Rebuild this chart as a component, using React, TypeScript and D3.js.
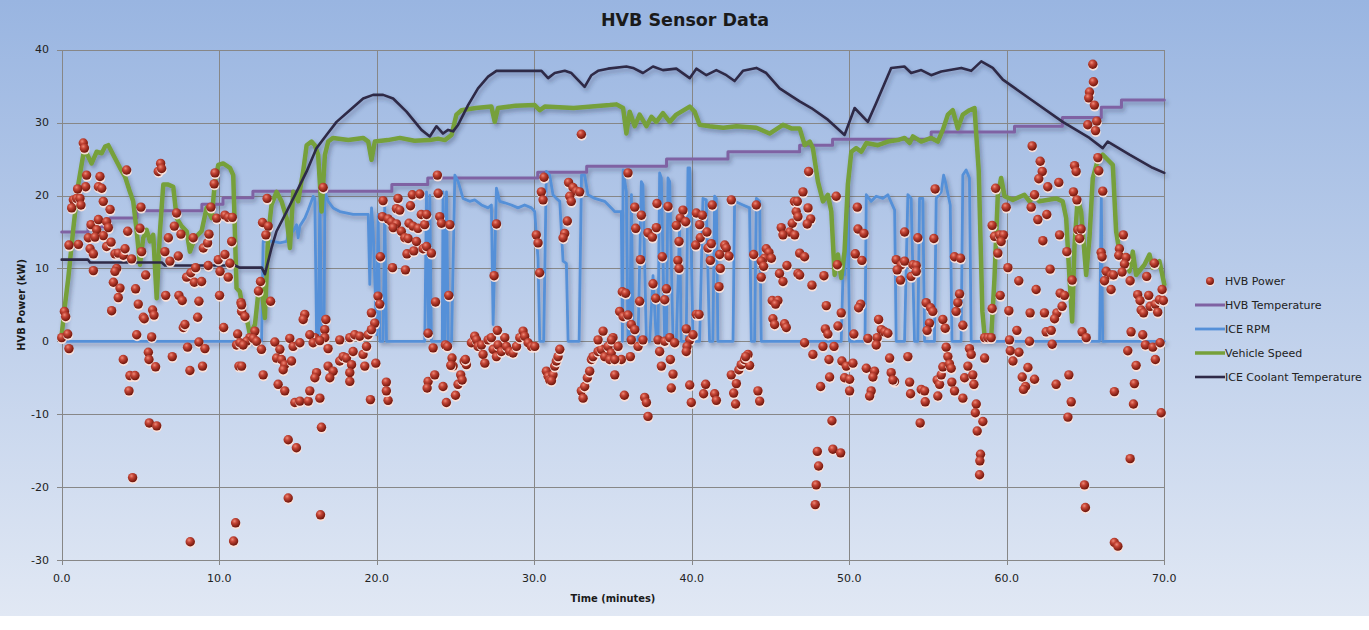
import React from "react";
import * as d3 from "d3";

// chart size (matches the screenshot window)
const W = 1369;
const H = 630;

const xTicks = [0, 10, 20, 30, 40, 50, 60, 70];
const yTicks = [-30, -20, -10, 0, 10, 20, 30, 40];

// [minutes, value] pairs
const hvbTemperature: [number, number][] = [
  [0, 15.0], [1.67, 15.7], [3.06, 16.9], [4.78, 17.9], [8.9, 18.8], [10.24, 19.7],
  [12.14, 20.6], [20.96, 21.5], [23.24, 22.4], [30.22, 23.2], [33.33, 24.0],
  [38.4, 25.0], [42.3, 26.0], [46.85, 26.9], [48.94, 27.7], [55.2, 28.7],
  [60.49, 29.5], [63.53, 30.7], [66.0, 32.1], [67.28, 33.1], [70, 33.1],
];

const iceRpm: [number, number][] = [
  [0, 0], [12.69, 0], [12.79, 13.7], [13.43, 13.7], [13.85, 13.5], [14.28, 13.7], [14.49, 15.8],
  [14.7, 15.1], [14.91, 16.0], [15.01, 14.2], [15.12, 15.8], [15.44, 16.9], [15.65, 18.0],
  [15.97, 19.9], [16.07, 19.6], [16.18, 0.9], [16.3, 0.9], [16.39, 20.5], [16.5, 0.5],
  [16.65, 0.5], [16.71, 20.5], [16.92, 19.2], [17.23, 18.3], [17.66, 17.8], [18.5, 17.4],
  [19.46, 17.4], [19.56, 7.8], [19.67, 18.3], [19.78, 15.0], [19.99, 0.9], [20.09, 17.4],
  [20.2, 0], [20.4, 0], [20.51, 18.7], [20.62, 0], [23.05, 0], [23.16, 20.5], [23.3, 0.9],
  [23.37, 20.0], [23.47, 0], [24.16, 0], [24.21, 20.5], [24.32, 0], [24.43, 20.5], [24.54, 0],
  [24.75, 0], [24.96, 22.8], [25.17, 21.9], [25.48, 19.6], [25.9, 19.2], [26.22, 19.4],
  [26.65, 18.7], [27.07, 18.3], [27.28, 18.7], [27.39, 2.3], [27.6, 21.0], [27.81, 19.2],
  [28.13, 19.0], [28.55, 18.7], [28.97, 18.3], [29.39, 18.7], [29.82, 18.3], [30.03, 17.8],
  [30.24, 11.4], [30.35, 0], [30.6, 0], [30.77, 23.3], [30.98, 22.8], [31.19, 20.1],
  [31.4, 19.6], [31.62, 19.2], [31.83, 11.0], [32.04, 10.7], [32.15, 0], [32.85, 0],
  [33.0, 22.8], [33.2, 22.8], [33.41, 20.1], [33.84, 19.6], [34.47, 19.2], [34.89, 18.3],
  [35.1, 17.8], [35.53, 17.8], [35.6, 0], [35.64, 23.5], [35.85, 20.5], [35.95, 0],
  [36.06, 0], [36.17, 20.1], [36.27, 0], [36.59, 0], [36.8, 21.9], [36.9, 21.5], [37.12, 0],
  [37.33, 0], [37.54, 9.0], [37.75, 0], [37.86, 0], [37.96, 23.1], [38.07, 22.4], [38.28, 0],
  [38.39, 0], [38.49, 22.4], [38.6, 21.9], [38.81, 0], [39.02, 0], [39.23, 16.0], [39.33, 0],
  [39.65, 0], [39.76, 23.8], [39.87, 23.8], [40.08, 0], [40.5, 0], [40.71, 19.6], [40.92, 19.4],
  [41.13, 0], [41.34, 0], [41.45, 19.9], [41.56, 19.6], [41.66, 0], [42.62, 0], [42.72, 19.2],
  [43.25, 18.7], [43.67, 18.3], [43.78, 0], [43.99, 0], [44.1, 19.6], [44.31, 19.2], [44.41, 0],
  [49.49, 0], [49.6, 9.1], [49.7, 9.1], [49.91, 18.3], [50.02, 0], [51.0, 0], [51.08, 20.1],
  [51.39, 19.2], [51.71, 19.9], [52.13, 19.6], [52.45, 20.1], [52.88, 18.0], [52.98, 0],
  [53.51, 0], [53.72, 20.1], [53.93, 19.6], [54.14, 0], [54.35, 0], [54.46, 19.6], [54.67, 19.6],
  [54.78, 0], [55.41, 0], [55.52, 19.6], [55.84, 20.5], [55.99, 22.8], [56.1, 21.9], [56.41, 18.7],
  [56.52, 0], [57.1, 0], [57.21, 22.8], [57.42, 23.5], [57.63, 22.4], [57.74, 0], [65.89, 0],
  [66.0, 20.1], [66.09, 0], [70, 0],
];

const vehicleSpeed: [number, number][] = [
  [0, 0.9], [0.21, 5.0], [0.42, 8.7], [0.74, 15.5], [1.05, 21.5], [1.37, 25.6], [1.58, 25.8],
  [1.9, 24.4], [2.22, 26.0], [2.54, 25.8], [2.75, 26.7], [2.96, 26.9], [3.27, 25.6], [3.7, 23.8],
  [4.02, 22.6], [4.33, 20.5], [4.54, 19.2], [4.76, 15.1], [4.97, 10.5], [5.18, 14.2], [5.39, 15.3],
  [5.6, 13.7], [5.81, 14.6], [6.03, 5.9], [6.24, 15.1], [6.45, 21.5], [6.76, 21.5], [7.08, 21.2],
  [7.3, 16.9], [7.61, 15.8], [7.93, 15.1], [8.14, 12.3], [8.46, 14.2], [8.88, 15.1], [9.2, 18.3],
  [9.52, 16.9], [9.73, 21.9], [9.94, 24.2], [10.25, 24.4], [10.68, 23.8], [10.89, 22.8],
  [11.1, 7.3], [11.31, 6.8], [11.52, 4.1], [11.74, 3.2], [11.95, 0.9], [12.27, 2.3], [12.47, 6.4],
  [12.69, 7.3], [12.9, 3.2], [13.11, 14.6], [13.32, 18.7], [13.64, 20.5], [13.96, 19.2],
  [14.28, 16.9], [14.49, 12.8], [14.7, 20.5], [15.01, 19.2], [15.33, 23.3], [15.55, 26.9],
  [15.86, 27.4], [16.07, 26.9], [16.28, 25.6], [16.5, 17.8], [16.71, 25.6], [16.92, 27.4],
  [17.23, 27.9], [18.2, 27.6], [19.14, 27.9], [19.46, 27.4], [19.67, 24.9], [19.88, 27.4],
  [20.7, 27.6], [21.47, 27.9], [22.4, 27.5], [23.37, 27.6], [23.9, 27.8], [24.32, 27.6],
  [24.75, 28.3], [25.06, 31.1], [25.38, 31.7], [26.3, 32.0], [27.28, 32.2], [27.49, 30.1],
  [27.7, 32.0], [28.8, 32.3], [30.03, 32.4], [30.35, 31.7], [30.67, 32.2], [32.5, 32.0],
  [34.8, 32.4], [35.22, 32.5], [35.64, 32.0], [35.85, 28.5], [36.06, 31.5], [36.38, 29.5],
  [36.69, 31.1], [37.12, 29.5], [37.44, 30.8], [37.75, 30.1], [38.17, 31.3], [38.6, 30.1],
  [39.02, 31.1], [39.87, 32.2], [40.18, 31.5], [40.5, 29.7], [41.13, 29.5], [42.0, 29.3],
  [42.83, 29.5], [44.1, 29.3], [44.94, 28.5], [45.79, 29.7], [46.32, 29.2], [46.85, 29.2],
  [47.17, 26.9], [47.49, 27.4], [47.69, 26.5], [48.01, 21.9], [48.33, 19.2], [48.64, 20.1],
  [48.86, 17.8], [49.07, 9.1], [49.28, 11.9], [49.49, 8.7], [49.7, 12.3], [49.91, 21.5],
  [50.13, 26.0], [50.44, 26.5], [50.76, 26.0], [51.08, 27.2], [51.82, 26.9], [52.45, 27.4],
  [53.08, 27.6], [53.51, 27.9], [53.83, 27.2], [54.04, 28.1], [54.57, 27.4], [55.2, 27.9],
  [55.62, 27.4], [55.94, 29.0], [56.26, 31.1], [56.57, 31.7], [56.89, 29.2], [57.21, 31.1],
  [57.63, 31.7], [57.95, 32.0], [58.22, 23.3], [58.45, 4.1], [58.6, 0.5], [59.01, 0.5],
  [59.22, 8.7], [59.43, 20.1], [59.64, 22.4], [59.86, 19.9], [60.38, 19.4], [61.12, 20.1],
  [61.44, 19.2], [61.76, 19.9], [62.07, 19.2], [63.13, 19.6], [63.55, 19.2], [63.77, 16.9],
  [63.98, 8.7], [64.15, 2.7], [64.3, 13.2], [64.5, 19.6], [64.72, 17.8], [65.04, 9.1],
  [65.25, 14.2], [65.46, 22.4], [65.78, 24.9], [66.09, 25.6], [66.41, 24.9], [66.73, 24.2],
  [66.94, 15.1], [67.15, 12.3], [67.47, 11.4], [67.79, 9.6], [68.0, 12.3], [68.21, 9.1],
  [68.74, 10.5], [69.06, 11.9], [69.26, 10.1], [69.69, 11.0], [70.0, 7.8],
];

const coolantTemperature: [number, number][] = [
  [0, 11.2], [1.67, 11.2], [1.8, 10.8], [6.36, 10.8], [6.56, 10.4], [11.0, 10.4], [11.3, 10.1],
  [12.7, 10.1], [12.9, 9.2], [13.32, 12.8], [13.64, 15.1], [14.28, 17.8], [14.91, 20.5],
  [15.55, 23.3], [16.18, 26.5], [16.81, 28.3], [17.45, 30.1], [18.29, 31.7], [19.14, 33.3],
  [19.77, 33.8], [20.41, 33.8], [21.04, 33.3], [21.89, 31.5], [22.84, 29.0], [23.37, 28.1],
  [23.79, 29.5], [24.21, 28.5], [24.53, 29.0], [24.85, 28.8], [25.17, 29.7], [25.8, 32.4],
  [26.43, 34.7], [27.07, 36.3], [27.6, 37.1], [30.46, 37.1], [30.88, 36.1], [31.3, 36.8],
  [31.94, 37.1], [32.36, 36.8], [33.2, 34.9], [33.63, 36.5], [34.05, 37.1], [34.68, 37.4],
  [35.85, 37.7], [36.27, 37.5], [36.9, 36.8], [37.54, 37.7], [38.17, 37.2], [39.02, 37.4],
  [39.87, 36.1], [40.29, 37.4], [40.93, 36.5], [41.56, 37.2], [42.2, 36.5], [42.72, 35.7],
  [43.25, 37.1], [44.1, 37.5], [44.73, 36.8], [45.58, 34.7], [46.21, 33.8], [46.85, 32.9],
  [47.59, 32.0], [48.64, 30.4], [49.7, 28.3], [50.34, 32.0], [51.18, 30.1], [51.71, 32.7],
  [52.66, 37.5], [53.5, 37.7], [53.93, 36.8], [54.57, 37.2], [55.2, 36.5], [55.84, 37.0],
  [57.11, 37.5], [57.74, 37.1], [58.38, 38.4], [59.11, 37.5], [59.75, 35.9], [61.44, 33.3],
  [63.55, 30.1], [65.25, 27.9], [66.09, 26.5], [66.41, 27.4], [67.79, 25.6], [69.26, 23.8],
  [70, 23.1],
];

const hvbPower: [number, number][] = [
  // 0 - 11 min
  [1.37, 27.2], [1.44, 26.5], [1.58, 22.8], [1.52, 21.2], [2.43, 22.6], [2.33, 21.2], [2.54, 21.0],
  [1.01, 20.9], [0.74, 19.4], [0.95, 19.6], [1.16, 19.6], [0.63, 18.3], [1.22, 18.7], [2.64, 19.2],
  [3.07, 18.1], [4.12, 23.5], [6.28, 24.4], [6.13, 23.3], [6.34, 23.7], [5.03, 18.4], [1.86, 16.0],
  [2.33, 16.7], [2.22, 15.3], [2.85, 16.4], [2.96, 15.6], [2.64, 14.5], [1.69, 14.2], [2.11, 14.3],
  [0.46, 13.2], [1.06, 13.3], [1.8, 12.7], [2.01, 12.0], [2.85, 13.0], [3.13, 13.6], [3.38, 12.0],
  [3.59, 12.1], [3.91, 11.8], [4.02, 12.7], [4.19, 15.1], [4.44, 11.3], [4.97, 15.5], [5.07, 12.3],
  [2.01, 9.7], [3.49, 10.0], [3.38, 9.6], [3.28, 8.1], [3.7, 7.3], [3.59, 6.0], [4.69, 7.2],
  [5.33, 9.1], [3.17, 4.2], [4.86, 5.1], [5.18, 3.3], [5.24, 3.1], [5.77, 4.3], [5.86, 3.6],
  [4.76, 0.9], [5.71, 0.6], [3.91, -2.5], [5.5, -1.5], [5.54, -2.5], [5.96, -3.5], [4.33, -4.7],
  [4.65, -4.7], [4.27, -6.8], [5.56, -11.2], [6.03, -11.6], [4.5, -18.7], [6.55, 12.3], [6.87, 11.0],
  [7.4, 11.7], [6.77, 14.2], [7.15, 15.8], [7.57, 14.7], [7.29, 17.6], [6.6, 6.3], [7.44, 6.3],
  [7.65, 5.6], [7.93, 8.8], [8.2, 9.4], [8.42, 8.1], [8.88, 8.2], [8.5, 10.1], [8.35, 14.2],
  [8.99, 12.8], [9.26, 13.5], [9.35, 14.7], [9.47, 18.4], [9.73, 23.1], [9.68, 21.6], [9.83, 16.9],
  [10.36, 17.3], [10.57, 17.0], [10.83, 17.0], [10.79, 13.7], [9.3, 10.4], [9.94, 11.2],
  [10.36, 11.9], [10.68, 10.7], [10.05, 9.6], [10.57, 8.8], [8.71, 5.5], [8.63, 3.3], [10.02, 6.3],
  [7.72, 1.9], [7.82, 2.3], [7.02, -2.1], [7.99, -0.8], [8.71, -0.1], [9.09, -1.0], [8.14, -4.0],
  [8.94, -3.4], [10.28, 1.9], [11.17, 1.0], [11.38, 5.3], [11.42, 4.1], [11.1, -0.5], [11.25, -3.4],
  [0.0, 0.5], [0.17, 4.1], [0.25, 3.4], [0.38, 1.0], [0.46, -1.0], [11.04, -24.9], [10.91, -27.4],
  [8.16, -27.5],
  // 11 - 23 min
  [13.04, 19.6], [12.75, 16.3], [13.11, 15.8], [12.96, 14.6], [12.62, 8.2], [12.49, 6.9],
  [13.26, 5.5], [16.6, 21.1], [20.4, 19.3], [21.35, 19.6], [21.25, 18.2], [21.46, 18.0],
  [22.26, 20.1], [22.73, 20.2], [22.14, 18.6], [22.83, 17.4], [20.36, 17.1], [20.72, 16.8],
  [20.93, 16.4], [21.25, 16.1], [21.04, 15.6], [22.05, 16.2], [22.3, 15.8], [22.62, 15.5],
  [23.04, 16.0], [21.56, 15.1], [21.78, 14.2], [21.99, 14.1], [22.52, 13.7], [22.94, 12.7],
  [21.92, 12.0], [22.35, 12.4], [20.23, 11.6], [21.0, 10.1], [21.82, 9.8], [11.63, 3.4],
  [11.42, 5.0], [12.26, 1.4], [11.94, 0.5], [11.73, 0], [11.31, -0.2], [11.52, -0.5], [12.16, 0.4],
  [12.37, 0], [12.68, -1.1], [11.42, -3.4], [12.79, -4.6], [15.43, 3.7], [15.33, 3.0], [16.77, 3.0],
  [16.7, 1.6], [16.7, 0.5], [16.07, 0.5], [13.53, -0.1], [13.85, -1.1], [14.48, 0.4], [14.69, -0.7],
  [15.12, -0.2], [15.75, 0.9], [15.96, -0.2], [16.39, 0.1], [16.91, -1.0], [17.65, 0.2], [18.29, 0.5],
  [18.6, 0.9], [18.92, 0.7], [19.45, 0.9], [19.66, 3.9], [19.87, 2.5], [20.08, 6.2], [20.19, 5.1],
  [19.66, 1.6], [13.64, -2.3], [13.95, -2.5], [14.16, -3.2], [14.59, -2.7], [14.06, -3.9],
  [13.74, -5.9], [14.16, -6.8], [14.8, -8.4], [15.12, -8.2], [15.65, -8.2], [15.75, -6.8],
  [16.39, -7.8], [16.18, -4.3], [16.07, -5.0], [16.91, -3.4], [17.23, -4.1], [17.02, -5.0],
  [17.65, -2.7], [17.87, -2.1], [18.08, -2.3], [18.4, -3.2], [18.29, -4.3], [18.29, -5.5],
  [18.5, -1.4], [19.13, -1.8], [19.24, -3.4], [19.35, -0.7], [19.94, -3.0], [19.6, -8.0],
  [20.61, -5.6], [20.72, -8.1], [20.61, -6.8], [16.49, -11.8], [14.38, -13.5], [14.9, -14.6],
  [14.38, -21.5], [16.43, -23.8], [23.26, 1.1], [23.26, -5.5], [23.2, -6.4],
  // 23 - 35 min
  [23.85, 22.8], [23.9, 20.3], [32.99, 28.4], [30.62, 22.5], [30.45, 20.5], [30.56, 19.4],
  [32.18, 21.8], [32.46, 21.1], [32.67, 20.6], [32.88, 20.5], [32.25, 19.9], [32.35, 19.2],
  [23.16, 17.4], [24.0, 17.1], [24.11, 16.2], [24.64, 16.0], [27.6, 16.1], [32.1, 16.5],
  [31.93, 14.8], [31.83, 14.2], [23.16, 13.0], [23.47, 12.1], [30.13, 14.6], [30.24, 13.5],
  [27.45, 9.0], [30.34, 9.4], [23.73, 5.4], [24.57, 6.3], [23.58, -0.9], [24.36, -0.5],
  [24.49, -0.7], [24.78, -2.3], [24.85, -3.4], [24.7, -3.3], [23.68, -4.6], [24.21, -6.2],
  [24.42, -8.4], [25.0, -7.4], [25.16, -5.9], [25.33, -4.6], [25.42, -5.3], [25.55, -2.7],
  [25.69, -3.2], [25.63, -2.5], [26.01, -0.2], [26.22, 0.7], [26.33, 0.2], [26.43, -0.7],
  [26.65, -0.5], [26.75, -1.8], [26.86, -3.0], [27.07, 0.2], [27.28, 0.5], [27.39, -1.1],
  [27.6, -2.1], [27.7, -0.5], [27.91, -1.4], [28.13, 0.5], [28.23, -0.7], [28.44, -1.4],
  [28.65, -1.6], [28.87, -0.7], [29.08, 0.5], [29.29, 1.4], [29.39, 0.7], [29.61, -0.2],
  [29.82, -0.7], [30.03, -0.7], [27.66, 1.5], [30.77, -4.1], [30.88, -4.8], [30.98, -5.3],
  [31.19, -4.6], [31.3, -3.4], [31.4, -2.7], [31.51, -2.1], [31.62, -1.1], [31.09, -5.4],
  [32.99, -6.8], [33.1, -7.8], [33.2, -6.2], [33.37, -5.0], [33.52, -4.1], [33.63, -2.5],
  [33.73, -2.1], [34.05, -1.4], [34.26, -1.1], [34.37, 1.4], [34.47, -2.1], [34.68, -0.7],
  [34.89, -1.6], [35.0, 0.5], [34.79, -2.5], [34.05, 0.2],
  // 35 - 47 min
  [35.95, 23.1], [36.38, 18.4], [36.8, 17.3], [37.79, 18.9], [38.49, 18.5], [39.44, 18.0],
  [39.27, 16.9], [39.61, 16.4], [40.29, 17.6], [40.67, 17.3], [41.3, 18.7], [42.51, 19.4],
  [44.1, 18.7], [36.44, 15.5], [37.22, 14.9], [37.5, 14.3], [37.75, 15.6], [39.02, 15.9],
  [40.5, 16.0], [40.54, 14.2], [40.96, 15.0], [39.19, 13.7], [40.25, 13.2], [41.03, 12.8],
  [41.24, 13.4], [42.09, 13.2], [42.19, 12.8], [41.77, 11.9], [42.36, 11.7], [43.93, 11.9],
  [44.73, 12.7], [44.9, 12.2], [44.62, 11.4], [45.05, 11.4], [44.41, 11.0], [44.56, 10.3],
  [36.74, 11.2], [38.13, 11.6], [39.12, 11.1], [39.19, 10.0], [41.18, 11.1], [41.81, 10.0],
  [41.73, 7.5], [44.41, 8.8], [35.59, 6.8], [35.8, 6.6], [36.69, 5.5], [37.54, 7.9], [37.71, 5.9],
  [38.28, 5.7], [38.39, 7.2], [40.29, 3.7], [40.46, 3.7], [35.42, 4.1], [35.64, 3.4], [35.95, 3.6],
  [36.16, 2.3], [36.38, 1.6], [39.65, 1.7], [34.9, 0.2], [35.32, -0.7], [35.53, -2.5],
  [35.11, -2.5], [36.16, 0.2], [36.59, -0.7], [36.9, 0.2], [37.86, 0.2], [38.28, 0], [38.6, 0.5],
  [38.91, -0.2], [39.87, 0.2], [40.08, 0.9], [39.7, -0.7], [39.65, -1.4], [35.11, -4.6],
  [36.1, -2.1], [37.96, -1.4], [38.64, -2.5], [38.07, -3.4], [38.81, -4.5], [38.7, -6.4],
  [35.72, -7.4], [37.01, -7.7], [37.12, -8.4], [37.22, -10.3], [39.87, -6.0], [39.97, -8.4],
  [40.88, -5.9], [40.75, -7.2], [41.45, -7.2], [41.56, -8.1], [42.51, -4.6], [42.83, -5.8],
  [42.66, -7.1], [42.78, -8.6], [42.99, -3.9], [43.14, -3.2], [43.35, -2.5], [43.57, -1.8],
  [43.67, -3.3], [44.2, -6.8], [44.31, -8.2], [43.42, -2.1], [46.52, 19.2], [46.63, 17.8],
  [46.38, 16.2], [45.68, 15.6], [46.21, 15.0], [45.79, 14.6], [45.57, 9.3], [45.79, 8.2],
  [46.04, 10.4], [46.74, 9.3], [45.15, 3.1], [45.26, 2.3], [45.89, 2.4], [46.0, 1.9],
  [45.11, 5.6], [45.47, 5.6], [45.32, 5.1],
  // 47 - 58 min
  [47.42, 23.3], [47.06, 20.5], [46.7, 19.2], [47.38, 18.3], [46.74, 17.1], [47.55, 16.8],
  [47.33, 16.1], [46.53, 14.6], [49.17, 19.9], [50.51, 18.4], [50.55, 15.4], [50.93, 14.8],
  [50.38, 12.0], [50.8, 11.1], [49.24, 10.5], [46.85, 12.1], [47.16, 11.6], [46.85, 9.1],
  [47.63, 7.7], [48.39, 9.0], [48.54, 4.9], [50.72, 5.1], [50.59, 4.6], [49.49, 3.9], [48.48, 1.7],
  [48.64, 1.0], [49.28, 2.1], [50.29, 1.0], [51.86, 3.0], [52.03, 1.6], [52.24, 1.3], [52.45, 1.1],
  [51.77, 0.5], [51.18, 0.4], [51.71, -0.5], [53.51, 15.0], [54.35, 14.2], [55.37, 14.1],
  [52.98, 11.2], [53.3, 10.5], [53.51, 11.0], [54.04, 10.5], [54.25, 10.4], [53.25, 8.4],
  [53.93, 8.9], [54.25, 9.6], [53.04, 9.8], [55.45, 20.9], [56.68, 11.6], [57.06, 11.4],
  [57.0, 6.5], [56.89, 5.3], [56.78, 4.1], [57.21, 2.2], [54.88, 5.3], [55.16, 4.6], [55.3, 4.1],
  [55.09, 2.5], [54.94, 1.5], [55.94, 3.0], [56.09, 1.8], [47.16, -0.2], [47.69, -1.8],
  [48.33, -0.7], [49.03, -0.7], [48.71, -2.5], [48.75, -4.9], [48.18, -6.2], [49.53, -2.7],
  [49.81, -3.4], [50.23, -3.0], [49.7, -5.0], [50.02, -5.2], [50.02, -6.8], [51.08, -3.7],
  [51.6, -4.1], [51.5, -4.9], [51.39, -6.8], [51.29, -7.5], [52.56, -2.3], [52.66, -4.3],
  [52.87, -5.5], [52.77, -5.3], [53.72, -2.1], [53.83, -5.6], [53.89, -7.2], [54.57, -6.6],
  [54.78, -6.8], [54.82, -8.3], [55.58, -5.3], [55.73, -5.9], [55.84, -4.6], [55.94, -3.5],
  [55.62, -7.5], [56.15, -0.8], [56.26, -2.1], [56.36, -3.1], [56.47, -3.7], [56.51, -5.6],
  [56.68, -6.8], [57.21, -7.8], [57.32, -5.0], [57.53, -3.4], [57.63, -1.0], [57.74, -1.8],
  [57.84, -4.6], [57.91, -5.9], [58.06, -8.6], [58.0, -9.8], [58.48, -11.0], [58.12, -12.3],
  [58.33, -15.5], [58.29, -16.4], [58.27, -18.3], [54.5, -11.2], [48.9, -10.9], [47.97, -15.1],
  [48.05, -17.1], [48.96, -14.8], [49.45, -15.3], [47.9, -19.7], [47.84, -22.4],
  // 58 - 70 min
  [65.46, 38.0], [65.5, 35.6], [65.25, 34.2], [65.2, 33.4], [65.56, 32.4], [65.14, 29.7],
  [65.71, 30.2], [65.63, 28.9], [61.61, 26.8], [62.12, 24.7], [62.25, 23.3], [62.03, 22.3],
  [62.6, 21.2], [63.3, 21.8], [64.3, 24.1], [64.4, 23.3], [64.23, 20.5], [64.45, 19.4],
  [65.78, 25.2], [65.84, 23.4], [66.09, 20.6], [59.29, 21.0], [59.96, 18.4], [61.76, 20.1],
  [61.55, 18.4], [61.97, 16.7], [62.54, 17.4], [59.07, 15.9], [59.22, 14.4], [59.54, 14.6],
  [59.79, 14.6], [59.64, 13.7], [59.43, 12.1], [62.29, 13.8], [63.35, 14.6], [63.81, 12.3],
  [64.51, 15.3], [64.72, 15.4], [64.62, 14.1], [65.99, 12.2], [66.05, 11.6], [67.4, 14.6],
  [67.15, 12.7], [67.11, 11.8], [67.57, 11.5], [67.47, 10.6], [67.32, 9.5], [66.31, 9.6],
  [66.62, 9.1], [66.77, 9.1], [66.2, 8.3], [66.62, 7.1], [67.83, 8.3], [60.07, 10.1],
  [62.75, 9.9], [60.76, 8.3], [61.86, 7.1], [59.58, 6.3], [59.07, 4.5], [60.13, 4.2], [61.48, 3.9],
  [62.39, 3.9], [63.18, 3.9], [63.03, 3.1], [63.39, 6.6], [63.66, 6.3], [63.51, 4.8], [64.15, 8.4],
  [69.37, 10.7], [68.88, 8.9], [68.31, 6.4], [68.46, 5.6], [69.01, 6.3], [69.1, 4.8], [69.43, 5.1],
  [69.69, 5.7], [69.86, 7.1], [69.94, 5.6], [68.53, 4.3], [68.68, 3.9], [69.58, 4.0], [67.89, 1.3],
  [68.63, 0.9], [68.8, -0.5], [69.27, -0.8], [69.73, -0.2], [69.43, -2.5], [58.59, 0.5],
  [58.8, 0.5], [59.01, 0.5], [58.59, -2.3], [60.64, 1.5], [60.17, 0.2], [62.5, 1.3], [62.82, 1.5],
  [62.88, -0.4], [61.44, 0], [64.78, 1.3], [65.04, 0.5], [60.22, -1.3], [60.77, -1.5],
  [60.39, -2.7], [61.34, -3.6], [60.98, -4.9], [61.76, -5.2], [61.19, -6.2], [61.06, -6.6],
  [63.13, -5.9], [63.94, -4.6], [64.09, -8.3], [63.88, -10.4], [66.83, -6.9], [67.68, -1.3],
  [68.21, -3.3], [68.1, -5.8], [68.04, -8.6], [69.8, -9.8], [67.83, -16.1], [64.93, -19.7],
  [64.99, -22.8], [66.83, -27.6], [67.05, -28.1],
];

const legendLabels = [
  "HVB Power",
  "HVB Temperature",
  "ICE RPM",
  "Vehicle Speed",
  "ICE Coolant Temperature",
];

const FONT = "'DejaVu Sans', sans-serif";
const FONT_NARROW = "'DejaVu Sans Condensed', 'DejaVu Sans', sans-serif";

export default function App() {
  const x = d3.scaleLinear().domain([0, 70]).range([61.7, 1164.3]);
  const y = d3.scaleLinear().domain([-30, 40]).range([560, 49.7]);
  const crisp = (v: number) => Math.round(v) + 0.5;

  const line = d3
    .line<[number, number]>()
    .x((d) => x(d[0]))
    .y((d) => y(d[1]));
  const stepLine = d3
    .line<[number, number]>()
    .x((d) => x(d[0]))
    .y((d) => y(d[1]))
    .curve(d3.curveStepAfter);

  // series styles, in legend/drawing order
  const lines = [
    { name: "HVB Temperature", d: stepLine(hvbTemperature), color: "#7f62a3", width: 3 },
    { name: "ICE RPM", d: line(iceRpm), color: "#5590d8", width: 2.8 },
    { name: "Vehicle Speed", d: line(vehicleSpeed), color: "#76a03a", width: 4.5 },
    { name: "ICE Coolant Temperature", d: line(coolantTemperature), color: "#2f2947", width: 2.6 },
  ];

  const [x0, x1] = x.range();
  const [y0, y1] = y.range();
  const legendX = 1195;
  const legendY = (i: number) => 281 + i * 24;
  const R = 4.7;

  return (
    <div style={{ position: "absolute", left: 0, top: 0 }}>
      <svg width={W} height={H} style={{ display: "block" }} fontFamily={FONT}>
        <defs>
          <linearGradient id="bg" x1="0" y1="0" x2="0" y2="1">
            <stop offset="0%" stopColor="#99b5e1" />
            <stop offset="100%" stopColor="#e1e8f4" />
          </linearGradient>
          <radialGradient id="ball" cx="38%" cy="32%" r="70%">
            <stop offset="0%" stopColor="#ee8a78" />
            <stop offset="35%" stopColor="#c44536" />
            <stop offset="100%" stopColor="#6a1208" />
          </radialGradient>
          <filter id="shadow" filterUnits="userSpaceOnUse" x="0" y="0" width={W} height={H}>
            <feDropShadow dx="2" dy="3" stdDeviation="2" floodColor="#243250" floodOpacity="0.38" />
          </filter>
        </defs>

        <rect x={0} y={0} width={W} height={H} fill="#ffffff" />
        <rect x={0} y={0} width={W} height={616} fill="url(#bg)" />

        {/* title */}
        <text x={685} y={26} textAnchor="middle" fontSize={17.5} fontWeight="bold" fill="#1a1a1a">
          HVB Sensor Data
        </text>

        {/* grid */}
        <g stroke="#878787" strokeWidth={1} shapeRendering="crispEdges">
          {yTicks.map((t) => (
            <line key={"gy" + t} x1={x0 - 5} x2={x1} y1={crisp(y(t))} y2={crisp(y(t))} />
          ))}
          {xTicks.map((t) => (
            <line key={"gx" + t} x1={crisp(x(t))} x2={crisp(x(t))} y1={y1} y2={y0 + 5} />
          ))}
        </g>

        {/* tick labels */}
        <g fontSize={11} fill="#222">
          {yTicks.map((t) => (
            <text key={"ly" + t} x={49} y={y(t)} textAnchor="end" dominantBaseline="central">
              {t}
            </text>
          ))}
          {xTicks.map((t) => (
            <text key={"lx" + t} x={x(t)} y={578} textAnchor="middle" dominantBaseline="central">
              {t.toFixed(1)}
            </text>
          ))}
        </g>

        {/* axis titles */}
        <text
          transform={`translate(21,${(y0 + y1) / 2}) rotate(-90)`}
          textAnchor="middle"
          dominantBaseline="central"
          fontFamily={FONT_NARROW}
          fontSize={11}
          fontWeight="bold"
          fill="#1a1a1a"
        >
          HVB Power (kW)
        </text>
        <text
          x={(x0 + x1) / 2}
          y={598}
          textAnchor="middle"
          dominantBaseline="central"
          fontFamily={FONT_NARROW}
          fontSize={11}
          fontWeight="bold"
          fill="#1a1a1a"
        >
          Time (minutes)
        </text>

        {/* lines */}
        <g fill="none" strokeLinejoin="round" strokeLinecap="round" filter="url(#shadow)">
          {lines.map((s) => (
            <path key={s.name} d={s.d || ""} stroke={s.color} strokeWidth={s.width} />
          ))}
        </g>

        {/* HVB power markers */}
        <g>
          {hvbPower.map((p, i) => (
            <g key={"p" + i} transform={`translate(${x(p[0])},${y(p[1])})`}>
              <ellipse cx={0.4} cy={1.9} rx={R + 0.1} ry={R - 0.2} fill="#fbe2da" opacity={0.95} />
              <circle r={R} fill="url(#ball)" />
            </g>
          ))}
        </g>

        {/* legend */}
        <g fontSize={11} fill="#222">
          {legendLabels.map((label, i) => {
            const ly = legendY(i);
            const s = lines.find((l) => l.name === label);
            return (
              <g key={label}>
                {s ? (
                  <line
                    x1={legendX}
                    x2={legendX + 30}
                    y1={ly}
                    y2={ly}
                    stroke={s.color}
                    strokeWidth={s.width > 4 ? 3.5 : s.width}
                  />
                ) : (
                  <g transform={`translate(${legendX + 15},${ly})`}>
                    <ellipse cx={0.4} cy={1.6} rx={4} ry={3.8} fill="#fbe2da" />
                    <circle r={4} fill="url(#ball)" />
                  </g>
                )}
                <text x={legendX + 30} y={ly} dominantBaseline="central">
                  {label}
                </text>
              </g>
            );
          })}
        </g>
      </svg>
    </div>
  );
}
